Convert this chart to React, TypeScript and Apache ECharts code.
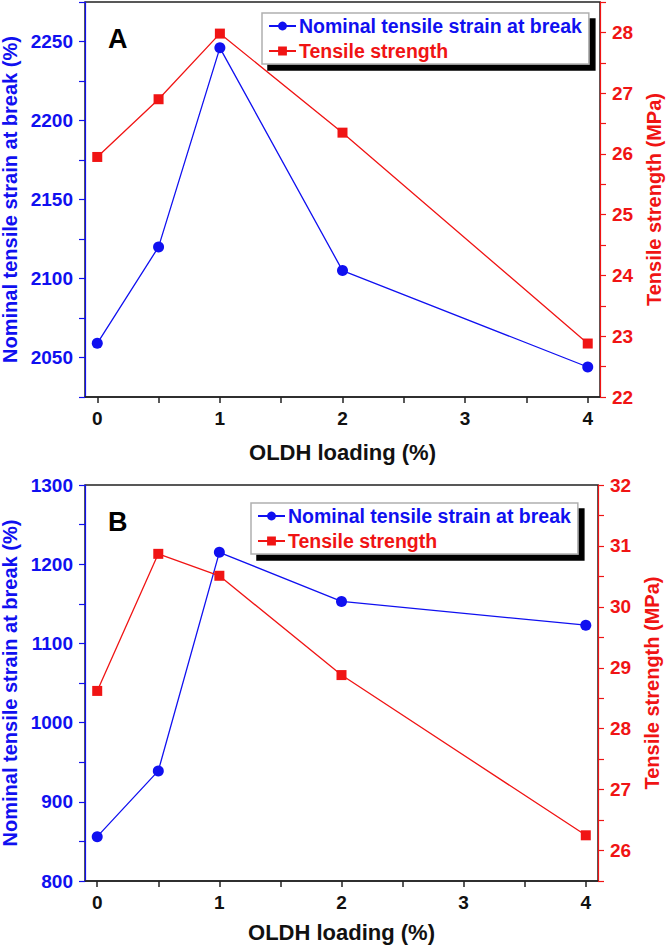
import React, { useEffect, useRef } from "react";
import * as echarts from "echarts";

const loading = [0, 0.5, 1, 2, 4];
const strainA = [2059, 2120, 2246, 2105, 2044];
const strengthA = [25.95, 26.9, 27.98, 26.35, 22.88];
const strainB = [856, 939, 1215, 1153, 1123];
const strengthB = [28.62, 30.87, 30.51, 28.88, 26.25];

const xTicks = [0, 0.5, 1, 1.5, 2, 2.5, 3, 3.5, 4];
const xLabels = [0, 1, 2, 3, 4];
const leftTicksA = [2025, 2050, 2075, 2100, 2125, 2150, 2175, 2200, 2225, 2250, 2275];
const leftLabelsA = [2050, 2100, 2150, 2200, 2250];
const rightTicksA = [22, 22.5, 23, 23.5, 24, 24.5, 25, 25.5, 26, 26.5, 27, 27.5, 28, 28.5];
const rightLabelsA = [22, 23, 24, 25, 26, 27, 28];
const leftTicksB = [800, 850, 900, 950, 1000, 1050, 1100, 1150, 1200, 1250, 1300];
const leftLabelsB = [800, 900, 1000, 1100, 1200, 1300];
const rightTicksB = [25.5, 26, 26.5, 27, 27.5, 28, 28.5, 29, 29.5, 30, 30.5, 31, 31.5, 32];
const rightLabelsB = [26, 27, 28, 29, 30, 31, 32];

const S1 = "Nominal tensile strain at break";
const S2 = "Tensile strength";
const XNAME = "OLDH loading (%)";
const YLNAME = "Nominal tensile strain at break (%)";
const YRNAME = "Tensile strength (MPa)";

const BLUE = "#1010f0";
const RED = "#f01414";
const FONT = "'Liberation Sans', Arial, Helvetica, sans-serif";

export default function App() {
  const ref = useRef<HTMLDivElement>(null);
  useEffect(() => {
    const chart = echarts.init(ref.current!, null, { renderer: "svg" });
    const fmt = (v: number) => String(v);
    const xAxis = (gridIndex: number, nameGap: number) => ({
      type: "value",
      gridIndex,
      min: -0.1,
      max: 4.1,
      name: XNAME,
      nameLocation: "middle",
      nameGap,
      nameTextStyle: { color: "#111", fontSize: 22, fontWeight: "bold", fontFamily: FONT },
      axisLine: { show: true, onZero: false, lineStyle: { color: "#222", width: 1.5 } },
      axisTick: { show: true, inside: false, length: 6, customValues: xTicks, lineStyle: { color: "#222", width: 1.5 } },
      axisLabel: { customValues: xLabels, formatter: fmt, margin: 12, color: "#111", fontSize: 19, fontWeight: "bold", fontFamily: FONT },
      splitLine: { show: false },
    });
    const yAxis = (
      gridIndex: number,
      position: string,
      min: number,
      max: number,
      ticks: number[],
      labels: number[],
      color: string,
      name: string,
      nameGap: number
    ) => ({
      type: "value",
      gridIndex,
      position,
      min,
      max,
      name,
      nameLocation: "middle",
      nameGap,
      nameRotate: 90,
      nameTextStyle: { color, fontSize: 20, fontWeight: "bold", fontFamily: FONT },
      axisLine: { show: true, onZero: false, lineStyle: { color, width: 1.2 } },
      axisTick: { show: true, inside: false, length: 6, customValues: ticks, lineStyle: { color, width: 1.2 } },
      axisLabel: { customValues: labels, formatter: fmt, margin: 12, color, fontSize: 19, fontWeight: "bold", fontFamily: FONT },
      splitLine: { show: false },
    });
    const lineSeries = (name: string, xi: number, yi: number, ys: number[], color: string, symbol: string, size: number) => ({
      type: "line",
      name,
      xAxisIndex: xi,
      yAxisIndex: yi,
      data: loading.map((x, i) => [x, ys[i]]),
      symbol,
      symbolSize: size,
      showAllSymbol: true,
      lineStyle: { color, width: 1.3 },
      itemStyle: { color },
    });
    const legend = (left: number, top: number) => ({
      orient: "vertical",
      left,
      top,
      padding: [3, 7, 3, 6],
      itemGap: 5,
      itemWidth: 27,
      itemHeight: 11,
      backgroundColor: "#fff",
      borderColor: "#b0b0b0",
      borderWidth: 1.5,
      shadowColor: "#000",
      shadowBlur: 0,
      shadowOffsetX: 6,
      shadowOffsetY: 6,
      selectedMode: false,
      lineStyle: { width: 2 },
      textStyle: { fontSize: 19.5, fontWeight: "bold", fontFamily: FONT, padding: [0, 0, 0, -2] },
      data: [
        { name: S1, textStyle: { color: BLUE } },
        { name: S2, textStyle: { color: RED } },
      ],
    });
    const grid = (top: number, width: number, height: number) => ({
      left: 85,
      top,
      width,
      height,
      outerBoundsMode: "none",
      containLabel: false,
      show: true,
      borderColor: "#222",
      borderWidth: 1.5,
      backgroundColor: "transparent",
    });
    chart.setOption({
      animation: false,
      backgroundColor: "#fff",
      title: [
        { text: "A", left: 103, top: 20, textStyle: { fontSize: 27, fontWeight: "bold", color: "#000", fontFamily: FONT } },
        { text: "B", left: 103, top: 503, textStyle: { fontSize: 27, fontWeight: "bold", color: "#000", fontFamily: FONT } },
      ],
      grid: [grid(2, 515, 395), grid(485, 513, 396)],
      legend: [legend(262, 13), legend(251, 503)],
      xAxis: [xAxis(0, 44), xAxis(1, 40)],
      yAxis: [
        yAxis(0, "left", 2025, 2275, leftTicksA, leftLabelsA, BLUE, YLNAME, 63),
        yAxis(0, "right", 22, 28.5, rightTicksA, rightLabelsA, RED, YRNAME, 44),
        yAxis(1, "left", 800, 1300, leftTicksB, leftLabelsB, BLUE, YLNAME, 63),
        yAxis(1, "right", 25.5, 32, rightTicksB, rightLabelsB, RED, YRNAME, 44),
      ],
      series: [
        lineSeries(S1, 0, 0, strainA, BLUE, "circle", 11),
        lineSeries(S2, 0, 1, strengthA, RED, "rect", 10),
        lineSeries(S1, 1, 2, strainB, BLUE, "circle", 11),
        lineSeries(S2, 1, 3, strengthB, RED, "rect", 10),
      ],
    });
    return () => chart.dispose();
  }, []);
  return (
    <div
      ref={ref}
      style={{ position: "absolute", left: 0, top: 0, width: 666, height: 947, background: "#fff" }}
    />
  );
}
